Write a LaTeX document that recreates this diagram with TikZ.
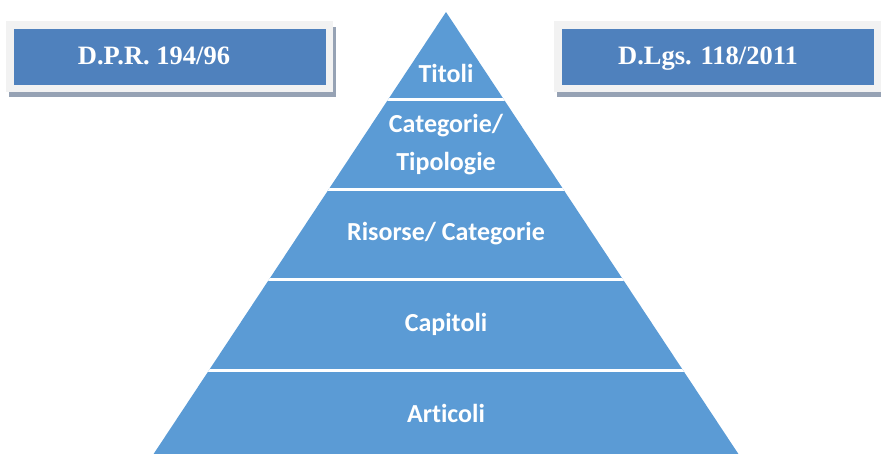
\documentclass[tikz,border=0pt]{standalone}
\usepackage{fontspec}
\setmainfont{Liberation Serif}
\newfontfamily\pyrfont[Ligatures=NoCommon]{Carlito}
\usetikzlibrary{positioning}
\definecolor{boxblue}{RGB}{79,129,189}
\definecolor{pyrblue}{RGB}{91,155,213}
\definecolor{framegray}{RGB}{242,242,242}
\definecolor{shadowgray}{RGB}{150,162,180}

\begin{document}
\begin{tikzpicture}[x=1pt, y=-1pt,
    lawbox/.style={fill=boxblue, draw=framegray, line width=7.5pt, minimum width=319.5pt, minimum height=63.5pt, inner sep=0pt},
    lawshadow/.style={fill=shadowgray},
    lawtext/.style={text=white, font=\bfseries\fontsize{26.5}{30}\selectfont, inner sep=0pt, anchor=base},
    level/.style={text=white, font=\pyrfont\bfseries\fontsize{26}{38}\selectfont, align=center, inner sep=0pt},
    sepline/.style={draw=white, line width=3pt}
]
    \useasboundingbox (0,0) rectangle (881,453);

    % riquadri normativi
    \fill[lawshadow] (9,27) rectangle (336,97);
    \fill[lawshadow] (557,27) rectangle (890,97);
    \node[lawbox, name=dprbox] at (169.5,56.5) {};
    \node[lawbox, name=dlgsbox] at (717.5,56.5) {};
    \node[lawtext, name=dpr] at (154,64) {D.P.R. 194/96};
    \node[lawtext, name=dlgs] at (708,64) {D.Lgs. 118/2011};

    % piramide
    \coordinate (apex) at (446,12);
    \coordinate (baseL) at (143,470);
    \coordinate (baseR) at (749,470);
    \fill[pyrblue] (apex) -- (baseR) -- (baseL) -- cycle;
    \begin{scope}
        \clip (apex) -- (baseR) -- (baseL) -- cycle;
        \foreach \y in {99,189,279,370}
            \draw[sepline] (140,\y) -- (760,\y);
    \end{scope}

    \node[level, name=titoli] at (446,73) {Titoli};
    \node[level, name=categorie] at (446,145) {Categorie/\\Tipologie};
    \node[level, name=risorse] at (446,234) {Risorse/ Categorie};
    \node[level, name=capitoli] at (446,324) {Capitoli};
    \node[level, name=articoli] at (446,413) {Articoli};
\end{tikzpicture}
\end{document}
